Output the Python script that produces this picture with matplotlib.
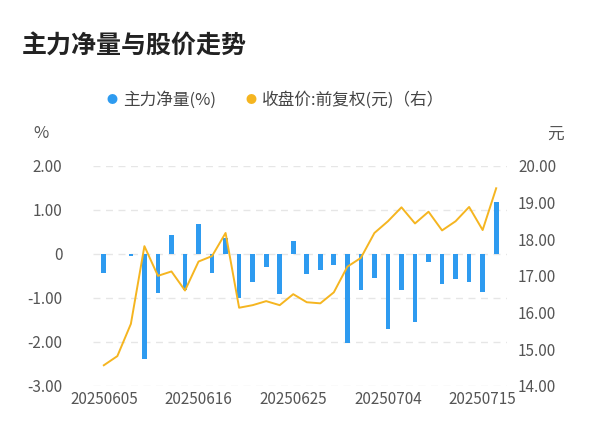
import matplotlib
matplotlib.use("Agg")
import matplotlib.pyplot as plt
import numpy as np

plt.rcParams["font.family"] = ["Noto Sans CJK SC", "DejaVu Sans"]

dates = ["20250605", "20250606", "20250609", "20250610", "20250611", "20250612", "20250613",
         "20250616", "20250617", "20250618", "20250619", "20250620", "20250623", "20250624",
         "20250625", "20250626", "20250627", "20250630", "20250701", "20250702", "20250703",
         "20250704", "20250707", "20250708", "20250709", "20250710", "20250711", "20250714",
         "20250715", "20250716"]
net_flow = [-0.44, -0.01, -0.04, -2.39, -0.88, 0.42, -0.82, 0.67, -0.44, 0.36,
            -1.00, -0.63, -0.29, -0.91, 0.30, -0.45, -0.36, -0.25, -2.03, -0.82,
            -0.55, -1.70, -0.82, -1.56, -0.19, -0.68, -0.57, -0.64, -0.87, 1.18]
price = [14.56, 14.81, 15.69, 17.81, 17.00, 17.12, 16.60, 17.39, 17.54, 18.17,
         16.13, 16.20, 16.31, 16.20, 16.50, 16.28, 16.25, 16.55, 17.25, 17.49,
         18.17, 18.49, 18.87, 18.43, 18.75, 18.24, 18.49, 18.88, 18.25, 19.39]

fig = plt.figure(figsize=(6.0, 4.46), dpi=100)
ax = fig.add_axes([0.155, 0.135, 0.69, 0.493])
x = np.arange(len(dates))

ax.bar(x, net_flow, width=0.35, color="#2e9bf0", zorder=2)
ax.set_ylim(-3, 2)
ax.set_xlim(-0.8, len(dates) - 0.2)
ax.set_yticks([-3, -2, -1, 0, 1, 2])
ax.set_yticklabels(["-3.00", "-2.00", "-1.00", "0", "1.00", "2.00"])
ax.grid(axis="y", color="#e6e6e6", linestyle=(0, (5, 4)), linewidth=1, zorder=0)
ax.set_xticks(x[::7])
ax.set_xticklabels([dates[i] for i in range(0, len(dates), 7)])
for s in ax.spines.values():
    s.set_visible(False)
ax.tick_params(length=0, labelsize=11, colors="#555555")
ax.tick_params(axis="y", pad=22)

ax2 = ax.twinx()
ax2.plot(x, price, color="#f5b520", linewidth=1.4, zorder=3)
ax2.set_ylim(14, 20)
ax2.set_yticks([14, 15, 16, 17, 18, 19, 20])
ax2.set_yticklabels([f"{v:.2f}" for v in [14, 15, 16, 17, 18, 19, 20]])
for s in ax2.spines.values():
    s.set_visible(False)
ax2.tick_params(length=0, labelsize=11, colors="#555555", pad=8)

fig.text(0.037, 0.88, "主力净量与股价走势", fontsize=18, fontweight="bold", color="#222222")
fig.text(0.055, 0.69, "%", fontsize=12, color="#555555")
fig.text(0.912, 0.69, "元", fontsize=12, color="#555555")

fig.text(0.178, 0.775, "●", fontsize=8, color="#2e9bf0", va="center")
fig.text(0.205, 0.775, "主力净量(%)", fontsize=12, color="#444444", va="center")
fig.text(0.41, 0.775, "●", fontsize=8, color="#f5b520", va="center")
fig.text(0.437, 0.775, "收盘价:前复权(元)（右）", fontsize=12, color="#444444", va="center")

fig.savefig("out.png", dpi=100)
